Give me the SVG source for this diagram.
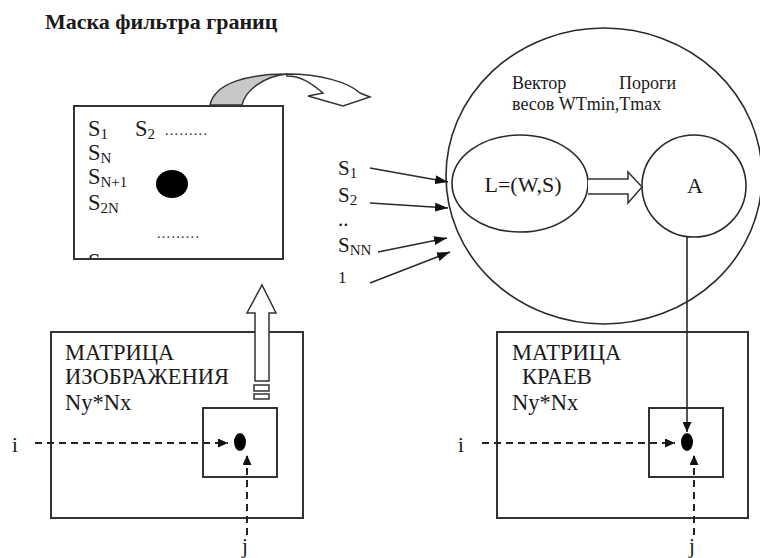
<svg xmlns="http://www.w3.org/2000/svg" width="760" height="558" viewBox="0 0 760 558">
<style>
text{font-family:"Liberation Serif","Times New Roman",serif;fill:#1a1a1a}
.t{font-size:21px}
.m{font-size:22.5px}
.sub{font-size:15px}
.c{font-size:18px}
.ln{fill:none;stroke:#2a2a2a;stroke-width:1.6}
.box{fill:#fff;stroke:#333;stroke-width:2}
.dash{fill:none;stroke:#222;stroke-width:2;stroke-dasharray:7 5}
.hol{fill:#fff;stroke:#333;stroke-width:1.5;stroke-linejoin:miter}
</style>
<defs>
<marker id="ah" markerWidth="13" markerHeight="9" refX="13" refY="4.5" orient="auto" markerUnits="userSpaceOnUse"><path d="M0,0 L13,4.5 L0,9 Z" fill="#111"/></marker>
<marker id="sm" markerWidth="10" markerHeight="9" refX="10" refY="4.5" orient="auto" markerUnits="userSpaceOnUse"><path d="M0,0 L10,4.5 L0,9 Z" fill="#111"/></marker>
<clipPath id="mclip"><rect x="74" y="106" width="209" height="152"/></clipPath>
</defs>
<rect width="760" height="558" fill="#fff"/>
<text x="45" y="29" style="font-size:22px;font-weight:bold">Маска фильтра границ</text>

<g id="mask">
<rect class="box" x="74" y="106" width="209" height="153"/>
<text class="m" x="88" y="136">S<tspan class="sub" dy="3">1</tspan></text>
<text class="m" x="135" y="136">S<tspan class="sub" dy="3">2</tspan></text>
<text x="165" y="135" style="font-size:14px;letter-spacing:1.3px">.........</text>
<text class="m" x="88" y="160">S<tspan class="sub" dy="3">N</tspan></text>
<text class="m" x="88" y="184">S<tspan class="sub" dy="3">N+1</tspan></text>
<text class="m" x="88" y="210">S<tspan class="sub" dy="3">2N</tspan></text>
<text x="157" y="238" style="font-size:14px;letter-spacing:1.3px">.........</text>
<text class="m" x="88" y="269" clip-path="url(#mclip)">S</text>
<ellipse cx="172" cy="184" rx="16" ry="14" fill="#000"/>
</g>

<g id="curved-arrow">
<path d="M210,105 C215,82 250,74 287,74 C265,76 245,90 242,105 Z" fill="#c8c8c8" stroke="#333" stroke-width="1.5"/>
<path d="M287,74 C320,74 348,82 360,93 L370,97 L343,106 L308,96 L323,93 C310,82 300,76 287,76 Z" fill="#fff" stroke="#333" stroke-width="1.5"/>
</g>

<g id="neuron">
<ellipse class="ln" cx="604" cy="176" rx="158" ry="148"/>
<text class="c" x="512" y="89">Вектор</text>
<text class="c" x="619" y="89">Пороги</text>
<text class="c" x="512" y="110">весов WTmin,Tmax</text>
</g>

<g id="sum">
<ellipse class="ln" cx="520" cy="183.5" rx="68" ry="48.5"/>
<text style="font-size:22px" x="523" y="192" text-anchor="middle">L=(W,S)</text>
</g>

<g id="activation">
<ellipse class="ln" cx="694" cy="186" rx="52" ry="51"/>
<text style="font-size:22px" x="695" y="193" text-anchor="middle">A</text>
</g>

<g id="inputs">
<text class="t" x="338" y="175">S<tspan class="sub" dy="3">1</tspan></text>
<text class="t" x="338" y="202">S<tspan class="sub" dy="3">2</tspan></text>
<text class="t" x="338" y="226">..</text>
<text class="t" x="338" y="252">S<tspan class="sub" dy="3">NN</tspan></text>
<text style="font-size:17px" x="338" y="283">1</text>
</g>

<g id="image-matrix">
<rect class="box" x="51" y="332" width="252" height="186"/>
<text class="m" x="65" y="360">МАТРИЦА</text>
<text class="m" x="65" y="384">ИЗОБРАЖЕНИЯ</text>
<text class="m" x="65" y="410">Ny*Nx</text>
<rect class="box" x="203" y="408" width="74" height="69"/>
<ellipse cx="240" cy="442" rx="6" ry="9" fill="#000"/>
<text class="t" x="12" y="452">i</text>
<text class="t" x="242" y="553">j</text>
</g>

<g id="edge-matrix">
<rect class="box" x="497" y="332" width="251" height="186"/>
<text class="m" x="512" y="360">МАТРИЦА</text>
<text class="m" x="522" y="384">КРАЕВ</text>
<text class="m" x="512" y="410">Ny*Nx</text>
<rect class="box" x="649" y="408" width="74" height="69"/>
<ellipse cx="687" cy="442" rx="6" ry="9" fill="#000"/>
<text class="t" x="458" y="452">i</text>
<text class="t" x="689" y="553">j</text>
</g>

<g id="connectors">
<line class="ln" x1="370" y1="168" x2="448" y2="182" marker-end="url(#ah)"/>
<line class="ln" x1="370" y1="203" x2="448" y2="208" marker-end="url(#ah)"/>
<line class="ln" x1="378" y1="252" x2="447" y2="238" marker-end="url(#ah)"/>
<line class="ln" x1="370" y1="283" x2="450" y2="252" marker-end="url(#ah)"/>
<path class="hol" d="M588,179 L628,179 L628,172 L642,187 L628,203 L628,194 L588,194"/>
<line class="ln" x1="687" y1="237" x2="687" y2="432" marker-end="url(#sm)"/>
<path class="hol" d="M255,381 L255,313 L247,313 L262,285 L276,313 L269,313 L269,381 Z"/>
<rect class="hol" x="254" y="385" width="15" height="6"/>
<rect class="hol" x="254" y="394" width="15" height="5"/>
<line class="dash" x1="35" y1="443" x2="228" y2="443" marker-end="url(#sm)"/>
<line class="dash" x1="247" y1="535" x2="247" y2="455" marker-end="url(#sm)"/>
<line class="dash" x1="482" y1="443" x2="675" y2="443" marker-end="url(#sm)"/>
<line class="dash" x1="694" y1="535" x2="694" y2="455" marker-end="url(#sm)"/>
</g>
</svg>
